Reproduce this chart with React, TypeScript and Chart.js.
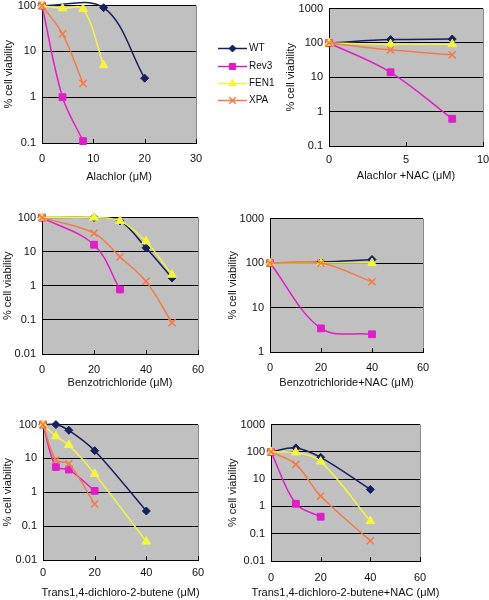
import React, { useEffect, useRef } from 'react';
import { Chart, registerables } from 'chart.js';
import { drawPoint } from 'chart.js/helpers';

Chart.register(...registerables);

const FONT = 'Arial, "Liberation Sans", Helvetica, sans-serif';
Chart.defaults.font.family = FONT;
Chart.defaults.color = '#111';

// ---------- series ----------
const seriesNames = ['WT', 'Rev3', 'FEN1', 'XPA'];
const seriesColors = ['#16205c', '#e01ec8', '#f5f53c', '#f47a46'];
const seriesMarkers = ['rectRot', 'rect', 'triangle', 'crossRot'];
const markerRadius = [4, 4.8, 5, 5];

const yTitle = '% cell viability';

// ---------- Alachlor ----------
const alachlorTitle = 'Alachlor (μM)';
const alachlorXTicks = [0, 10, 20, 30];
const alachlorYTicks = [0.1, 1, 10, 100];
const alachlorWTX = [0, 12, 20];
const alachlorWTY = [100, 90, 2.6];
const alachlorRev3X = [0, 4, 8];
const alachlorRev3Y = [100, 1.0, 0.11];
const alachlorFEN1X = [0, 4, 8, 12];
const alachlorFEN1Y = [100, 87, 85, 5];
const alachlorXPAX = [0, 4, 8];
const alachlorXPAY = [100, 24, 2.0];

// ---------- Alachlor + NAC ----------
const alachlorNacTitle = 'Alachlor +NAC (μM)';
const alachlorNacXTicks = [0, 5, 10];
const alachlorNacYTicks = [0.1, 1, 10, 100, 1000];
const alachlorNacX = [0, 4, 8];
const alachlorNacWTY = [100, 125, 130];
const alachlorNacRev3Y = [100, 14, 0.62];
const alachlorNacFEN1Y = [100, 92, 92];
const alachlorNacXPAY = [100, 63, 45];

// ---------- Benzotrichloride ----------
const benzoTitle = 'Benzotrichloride (μM)';
const benzoXTicks = [0, 20, 40, 60];
const benzoYTicks = [0.01, 0.1, 1, 10, 100];
const benzoWTX = [0, 20, 30, 40, 50];
const benzoWTY = [100, 100, 80, 13, 1.7];
const benzoRev3X = [0, 20, 30];
const benzoRev3Y = [100, 16, 0.78];
const benzoFEN1X = [0, 20, 30, 40, 50];
const benzoFEN1Y = [100, 100, 80, 20, 2.1];
const benzoXPAX = [0, 20, 30, 40, 50];
const benzoXPAY = [100, 35, 7, 1.35, 0.083];

// ---------- Benzotrichloride + NAC ----------
const benzoNacTitle = 'Benzotrichloride+NAC (μM)';
const benzoNacXTicks = [0, 20, 40, 60];
const benzoNacYTicks = [1, 10, 100, 1000];
const benzoNacX = [0, 20, 40];
const benzoNacWTY = [100, 105, 120];
const benzoNacRev3Y = [100, 3.4, 2.5];
const benzoNacFEN1Y = [100, 100, 100];
const benzoNacXPAY = [100, 100, 38];

// ---------- Trans1,4-dichloro-2-butene ----------
const transTitle = 'Trans1,4-dichloro-2-butene (μM)';
const transXTicks = [0, 20, 40, 60];
const transYTicks = [0.01, 0.1, 1, 10, 100];
const transWTX = [0, 5, 10, 20, 40];
const transWTY = [100, 100, 68, 17, 0.28];
const transRev3X = [0, 5, 10, 20];
const transRev3Y = [100, 5.6, 4.7, 1.1];
const transFEN1X = [0, 5, 10, 20, 40];
const transFEN1Y = [100, 45, 25, 3.5, 0.035];
const transXPAX = [0, 5, 10, 20];
const transXPAY = [100, 9, 7, 0.45];

// ---------- Trans1,4-dichloro-2-butene + NAC ----------
const transNacTitle = 'Trans1,4-dichloro-2-butene+NAC (μM)';
const transNacXTicks = [0, 20, 40, 60];
const transNacYTicks = [0.01, 0.1, 1, 10, 100, 1000];
const transNacWTX = [0, 10, 20, 40];
const transNacWTY = [100, 140, 63, 4.2];
const transNacRev3X = [0, 10, 20];
const transNacRev3Y = [100, 1.25, 0.42];
const transNacFEN1X = [0, 10, 20, 40];
const transNacFEN1Y = [100, 95, 44, 0.29];
const transNacXPAX = [0, 10, 20, 40];
const transNacXPAY = [100, 35, 2.4, 0.055];

type Box = { l: number; r: number; t: number; b: number; yTitleX: number; tickCY: number; titleCY: number };
type PanelDef = {
  title: string;
  xTicks: number[];
  yTicks: number[];
  series: [number[], number[]][];
  legend?: boolean;
  box: Box;
};

const panels: PanelDef[] = [
  {
    title: alachlorTitle, xTicks: alachlorXTicks, yTicks: alachlorYTicks, legend: true,
    series: [[alachlorWTX, alachlorWTY], [alachlorRev3X, alachlorRev3Y], [alachlorFEN1X, alachlorFEN1Y], [alachlorXPAX, alachlorXPAY]],
    box: { l: 42, r: 196, t: 3, b: 143, yTitleX: 9, tickCY: 159, titleCY: 177 },
  },
  {
    title: alachlorNacTitle, xTicks: alachlorNacXTicks, yTicks: alachlorNacYTicks,
    series: [[alachlorNacX, alachlorNacWTY], [alachlorNacX, alachlorNacRev3Y], [alachlorNacX, alachlorNacFEN1Y], [alachlorNacX, alachlorNacXPAY]],
    box: { l: 329, r: 483, t: 6, b: 146, yTitleX: 291, tickCY: 160, titleCY: 176 },
  },
  {
    title: benzoTitle, xTicks: benzoXTicks, yTicks: benzoYTicks,
    series: [[benzoWTX, benzoWTY], [benzoRev3X, benzoRev3Y], [benzoFEN1X, benzoFEN1Y], [benzoXPAX, benzoXPAY]],
    box: { l: 42, r: 198, t: 215, b: 354, yTitleX: 8, tickCY: 370, titleCY: 383 },
  },
  {
    title: benzoNacTitle, xTicks: benzoNacXTicks, yTicks: benzoNacYTicks,
    series: [[benzoNacX, benzoNacWTY], [benzoNacX, benzoNacRev3Y], [benzoNacX, benzoNacFEN1Y], [benzoNacX, benzoNacXPAY]],
    box: { l: 270, r: 423, t: 216, b: 352, yTitleX: 233, tickCY: 368, titleCY: 383 },
  },
  {
    title: transTitle, xTicks: transXTicks, yTicks: transYTicks,
    series: [[transWTX, transWTY], [transRev3X, transRev3Y], [transFEN1X, transFEN1Y], [transXPAX, transXPAY]],
    box: { l: 43, r: 198, t: 422, b: 560, yTitleX: 8, tickCY: 573, titleCY: 593 },
  },
  {
    title: transNacTitle, xTicks: transNacXTicks, yTicks: transNacYTicks,
    series: [[transNacWTX, transNacWTY], [transNacRev3X, transNacRev3Y], [transNacFEN1X, transNacFEN1Y], [transNacXPAX, transNacXPAY]],
    box: { l: 271, r: 420, t: 422, b: 561, yTitleX: 233, tickCY: 578, titleCY: 593 },
  },
];

const decorPlugin = {
  id: 'decor',
  beforeDraw(chart: any) {
    const { ctx, chartArea: a } = chart;
    ctx.save();
    ctx.fillStyle = '#c0c0c0';
    ctx.fillRect(a.left, a.top, a.right - a.left, a.bottom - a.top);
    ctx.strokeStyle = '#8a8a8a';
    ctx.lineWidth = 1;
    ctx.beginPath();
    ctx.moveTo(Math.round(a.right) + 0.5, a.top);
    ctx.lineTo(Math.round(a.right) + 0.5, a.bottom);
    ctx.stroke();
    ctx.restore();
  },
  afterDraw(chart: any, _args: any, opts: any) {
    const { ctx, chartArea: a } = chart;
    const xs = chart.scales.x;
    ctx.save();
    // inside tick marks
    ctx.strokeStyle = '#000';
    ctx.lineWidth = 1;
    ctx.beginPath();
    for (const v of opts.xTicks) {
      const px = Math.round(xs.getPixelForValue(v)) + 0.5;
      ctx.moveTo(px, a.bottom);
      ctx.lineTo(px, a.bottom - 4);
    }
    ctx.stroke();
    // x title
    ctx.fillStyle = '#111';
    ctx.font = `11px ${FONT}`;
    ctx.textAlign = 'center';
    ctx.textBaseline = 'middle';
    ctx.fillText(opts.title, (a.left + a.right) / 2, opts.titleY);
    // legend
    if (opts.legend) {
      const midY = (a.top + a.bottom) / 2;
      const x0 = a.right + 22;
      const x1 = a.right + 51;
      seriesNames.forEach((name, i) => {
        const y = Math.round(midY + (i - 1.5) * 17.3) + 0.5;
        ctx.strokeStyle = seriesColors[i];
        ctx.fillStyle = seriesColors[i];
        ctx.lineWidth = 1.5;
        ctx.beginPath();
        ctx.moveTo(x0, y);
        ctx.lineTo(x1, y);
        ctx.stroke();
        ctx.lineWidth = i === 3 ? 1.5 : 1;
        drawPoint(ctx, { pointStyle: seriesMarkers[i], radius: markerRadius[i] - 0.5, borderWidth: i === 3 ? 1.5 : 1, rotation: 0 } as any, (x0 + x1) / 2, y);
        ctx.fillStyle = '#111';
        ctx.font = `10px ${FONT}`;
        ctx.textAlign = 'left';
        ctx.textBaseline = 'middle';
        ctx.fillText(name, x1 + 2, y);
      });
    }
    ctx.restore();
  },
};

function Panel({ def }: { def: PanelDef }) {
  const ref = useRef<HTMLCanvasElement>(null);
  const g = def.box;
  const padTop = 10;
  const padRight = def.legend ? 95 : 40;
  const canvasLeft = Math.round(g.yTitleX - 7);
  const canvasTop = g.t - padTop;
  const canvasBottom = Math.min(600, g.titleCY + 8);
  const width = g.r + padRight - canvasLeft;
  const height = canvasBottom - canvasTop;
  const yW = g.l - canvasLeft;
  const xH = canvasBottom - g.b;
  const tickPad = g.tickCY - g.b - 6.6;

  useEffect(() => {
    const canvas = ref.current;
    if (!canvas) return;
    const chart = new Chart(canvas, {
      type: 'scatter',
      data: {
        datasets: def.series.map(([xs, ys], i) => ({
          label: seriesNames[i],
          data: xs.map((x, j) => ({ x, y: ys[j] })),
          showLine: true,
          borderColor: seriesColors[i],
          backgroundColor: seriesColors[i],
          borderWidth: 1.5,
          pointStyle: seriesMarkers[i] as any,
          pointRadius: markerRadius[i],
          pointHoverRadius: markerRadius[i],
          pointBorderWidth: i === 3 ? 1.5 : 1,
          pointBorderColor: seriesColors[i],
          pointBackgroundColor: seriesColors[i],
          tension: 0.35,
          clip: false as any,
          order: 3 - i,
        })),
      },
      options: {
        responsive: false,
        animation: false,
        events: [],
        layout: { padding: { top: padTop, right: padRight, left: 0, bottom: 0 } },
        elements: { line: { capBezierPoints: false } },
        plugins: {
          legend: { display: false },
          tooltip: { enabled: false },
          decor: { title: def.title, titleY: g.titleCY - canvasTop, legend: !!def.legend, xTicks: def.xTicks },
        } as any,
        scales: {
          x: {
            type: 'linear',
            min: def.xTicks[0],
            max: def.xTicks[def.xTicks.length - 1],
            afterBuildTicks: (s: any) => { s.ticks = def.xTicks.map((v) => ({ value: v })); },
            afterFit: (s: any) => { s.height = xH; },
            grid: { display: true, drawOnChartArea: false, drawTicks: false },
            border: { display: true, color: '#000', width: 1 },
            ticks: { padding: tickPad, font: { size: 11 }, color: '#111', maxRotation: 0, autoSkip: false },
            title: { display: false },
          },
          y: {
            type: 'logarithmic',
            min: def.yTicks[0],
            max: def.yTicks[def.yTicks.length - 1],
            afterBuildTicks: (s: any) => { s.ticks = def.yTicks.map((v) => ({ value: v })); },
            afterFit: (s: any) => { s.width = yW; },
            grid: { color: '#000', lineWidth: 1, drawTicks: false },
            border: { display: true, color: '#000', width: 1 },
            ticks: { padding: 6, font: { size: 11 }, color: '#111', autoSkip: false, callback: (v: any) => String(v) },
            title: { display: true, text: yTitle, font: { size: 11 }, color: '#111', padding: { top: 0, bottom: 0 } },
          },
        },
      } as any,
      plugins: [decorPlugin as any],
    });
    return () => chart.destroy();
  }, []);

  return (
    <canvas
      ref={ref}
      width={width}
      height={height}
      style={{ position: 'absolute', left: canvasLeft, top: canvasTop, width, height, display: 'block' }}
    />
  );
}

export default function App() {
  return (
    <div style={{ position: 'fixed', left: 0, top: 0, width: 489, height: 600, overflow: 'hidden', background: '#fff' }}>
      {panels.map((p, i) => (
        <Panel key={i} def={p} />
      ))}
    </div>
  );
}
